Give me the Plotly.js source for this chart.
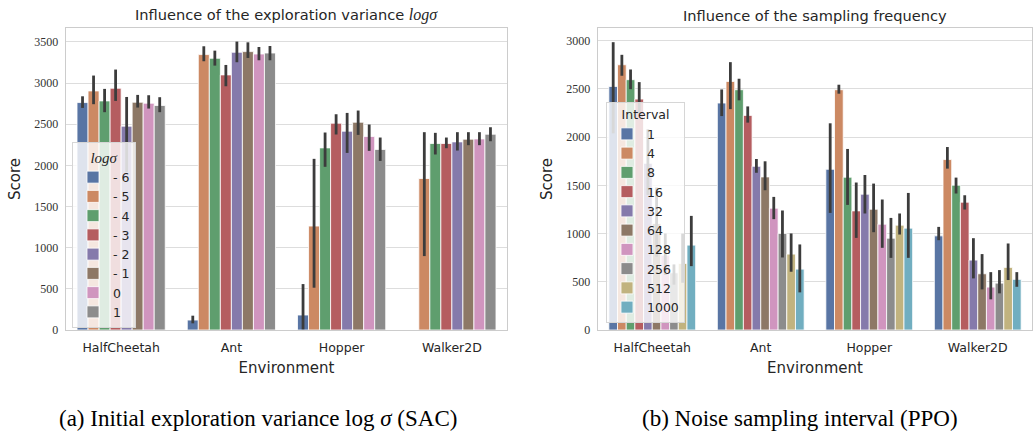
<!DOCTYPE html>
<html>
<head>
<meta charset="utf-8">
<script src="https://cdn.plot.ly/plotly-3.0.1.min.js"></script>
<style>
  html, body { margin: 0; padding: 0; background: #ffffff; }
  #chart { width: 1034px; height: 432px; }
</style>
</head>
<body>
<div id="chart"></div>
<script>
// ---------- data ----------
const environments = ["HalfCheetah", "Ant", "Hopper", "Walker2D"];

// (a) SAC – initial exploration variance log sigma
const sigmaLabels = ["- 6", "- 5", "- 4", "- 3", "- 2", "- 1", "0", "1"];
const sacMean = [
  [2764, 121, 182, null],
  [2905, 3347, 1263, 1841],
  [2784, 3302, 2213, 2266],
  [2938, 3100, 2513, 2266],
  [2477, 3375, 2416, 2286],
  [2768, 3383, 2525, 2319],
  [2756, 3354, 2351, 2322],
  [2728, 3366, 2194, 2379]
];
const sacLow = [
  [2699, 81, 8, null],
  [2744, 3266, 514, 898],
  [2647, 3213, 1983, 2133],
  [2784, 2962, 2376, 2209],
  [1920, 3254, 2152, 2181],
  [2703, 3306, 2371, 2246],
  [2691, 3278, 2177, 2246],
  [2647, 3278, 2055, 2294]
];
const sacHigh = [
  [2840, 174, 558, null],
  [3092, 3448, 2080, 2404],
  [2930, 3395, 2400, 2396],
  [3165, 3221, 2622, 2339],
  [2832, 3505, 2638, 2404],
  [2857, 3496, 2667, 2404],
  [2853, 3439, 2497, 2404],
  [2829, 3451, 2339, 2464]
];

// (b) PPO – noise sampling interval
const intervalLabels = ["1", "4", "8", "16", "32", "64", "128", "256", "512", "1000"];
const ppoMean = [
  [2525, 2353, 1666, 976],
  [2750, 2577, 2491, 1767],
  [2595, 2491, 1584, 1501],
  [2394, 2225, 1235, 1325],
  [1728, 1697, 1408, 725],
  [1104, 1587, 1252, 583],
  [776, 1263, 1097, 445],
  [593, 1001, 952, 486],
  [690, 787, 1087, 649],
  [880, 631, 1056, 525]
];
const ppoLow = [
  [2039, 2218, 1214, 931],
  [2636, 2290, 2450, 1673],
  [2497, 2381, 1297, 1415],
  [2243, 2150, 955, 1249],
  [1400, 1630, 1208, 535],
  [760, 1449, 1014, 421],
  [570, 1149, 852, 318],
  [470, 752, 748, 380],
  [490, 604, 990, 518],
  [662, 390, 748, 448]
];
const ppoHigh = [
  [2984, 2494, 2143, 1069],
  [2853, 2777, 2543, 1897],
  [2701, 2605, 1877, 1580],
  [2570, 2318, 1529, 1397],
  [2080, 1773, 1607, 952],
  [1477, 1749, 1518, 787],
  [1001, 1380, 1353, 600],
  [680, 1239, 1162, 621],
  [1000, 1001, 1208, 897],
  [1183, 887, 1421, 600]
];

// ---------- style ----------
const palette = ["#5975a4", "#cc8963", "#5f9e6e", "#b55d60", "#857aab",
                 "#8d7866", "#d095bf", "#8c8c8c", "#c1b37f", "#71aec0"];
const errColor = "#3c3c3c";
const sansFont = "DejaVu Sans, sans-serif";
const serifFont = "Liberation Serif, DejaVu Serif, serif";
const textColor = "#262626";

function makeTraces(labels, mean, low, high, xa, ya, legendName) {
  return labels.map((lab, i) => ({
    type: "bar",
    name: lab,
    x: environments,
    y: mean[i],
    xaxis: xa,
    yaxis: ya,
    legend: legendName,
    marker: { color: palette[i], line: { color: "#ffffff", width: 0.8 } },
    error_y: {
      type: "data",
      symmetric: false,
      array: mean[i].map((m, k) => (m === null ? null : high[i][k] - m)),
      arrayminus: mean[i].map((m, k) => (m === null ? null : m - low[i][k])),
      color: errColor,
      thickness: 2.8,
      width: 0
    },
    hoverinfo: "x+y+name"
  }));
}

const traces = [
  ...makeTraces(sigmaLabels, sacMean, sacLow, sacHigh, "x", "y", "legend"),
  ...makeTraces(intervalLabels, ppoMean, ppoLow, ppoHigh, "x2", "y2", "legend2")
];

const W = 1034, H = 432;
const mL = 66, mR = 2, mT = 28, mB = 102;
const plotW = W - mL - mR;
const plotH = H - mT - mB;
const px = v => (v - mL) / plotW;
const py = v => (H - mB - v) / plotH;

const axisCommon = {
  showline: true, mirror: true, linecolor: "#cccccc", linewidth: 1.3,
  gridcolor: "#dddddd", gridwidth: 1, zeroline: false, ticks: "",
  fixedrange: true
};

const xTick = { family: sansFont, size: 12.5, color: textColor };
const yTick = { family: serifFont, size: 12, color: "#333333" };
const xTitle = { text: "Environment", font: { family: sansFont, size: 15, color: textColor }, standoff: 8 };
const yTitle = { text: "Score", font: { family: sansFont, size: 15, color: textColor }, standoff: 10 };

const layout = {
  width: W, height: H,
  margin: { l: mL, r: mR, t: mT, b: mB },
  paper_bgcolor: "#ffffff",
  plot_bgcolor: "#ffffff",
  barmode: "group",
  bargap: 0.2,
  bargroupgap: 0,
  font: { family: sansFont, color: textColor },
  xaxis: Object.assign({}, axisCommon, {
    domain: [0, px(507)], anchor: "y", showgrid: false,
    tickfont: xTick, ticklabelstandoff: 6, title: xTitle
  }),
  yaxis: Object.assign({}, axisCommon, {
    domain: [0, 1], anchor: "x", range: [0, 3670], dtick: 500, tick0: 0,
    tickfont: yTick, ticklabelstandoff: 4, title: yTitle
  }),
  xaxis2: Object.assign({}, axisCommon, {
    domain: [px(598), 1], anchor: "y2", showgrid: false,
    tickfont: xTick, ticklabelstandoff: 6, title: xTitle
  }),
  yaxis2: Object.assign({}, axisCommon, {
    domain: [0, 1], anchor: "x2", range: [0, 3131], dtick: 500, tick0: 0,
    tickfont: yTick, ticklabelstandoff: 4, title: yTitle
  }),
  legend: {
    x: px(72), xanchor: "left", y: py(328), yanchor: "bottom",
    bgcolor: "rgba(255,255,255,0.8)", bordercolor: "#d6d6d6", borderwidth: 1,
    font: { family: sansFont, size: 12.5, color: textColor },
    title: { text: "<i>logσ</i>", side: "top center", font: { family: serifFont, size: 15, color: textColor } },
    tracegroupgap: 0, itemwidth: 30
  },
  legend2: {
    x: px(606), xanchor: "left", y: py(323), yanchor: "bottom",
    bgcolor: "rgba(255,255,255,0.8)", bordercolor: "#d6d6d6", borderwidth: 1,
    font: { family: sansFont, size: 12.5, color: textColor },
    title: { text: "Interval", side: "top center", font: { family: sansFont, size: 12.5, color: textColor } },
    tracegroupgap: 0, itemwidth: 30
  },
  annotations: [
    {
      text: "Influence of the exploration variance <i><span style=\"font-family:Liberation Serif, serif;font-size:16px\">logσ</span></i>",
      xref: "paper", yref: "paper", x: px(286.5), y: 1, xanchor: "center", yanchor: "bottom",
      yshift: 2, showarrow: false, font: { family: sansFont, size: 14.6, color: textColor }
    },
    {
      text: "Influence of the sampling frequency",
      xref: "paper", yref: "paper", x: px(815), y: 1, xanchor: "center", yanchor: "bottom",
      yshift: 2, showarrow: false, font: { family: sansFont, size: 14.6, color: textColor }
    },
    {
      text: "(a) Initial exploration variance log <i>σ</i> (SAC)",
      xref: "paper", yref: "paper", x: px(257.5), y: py(418), xanchor: "center", yanchor: "middle",
      showarrow: false, font: { family: serifFont, size: 23, color: "#000000" }
    },
    {
      text: "(b) Noise sampling interval (PPO)",
      xref: "paper", yref: "paper", x: px(800), y: py(418), xanchor: "center", yanchor: "middle",
      showarrow: false, font: { family: serifFont, size: 23, color: "#000000" }
    }
  ]
};

Plotly.newPlot("chart", traces, layout, { displayModeBar: false, staticPlot: true });
</script>
</body>
</html>
